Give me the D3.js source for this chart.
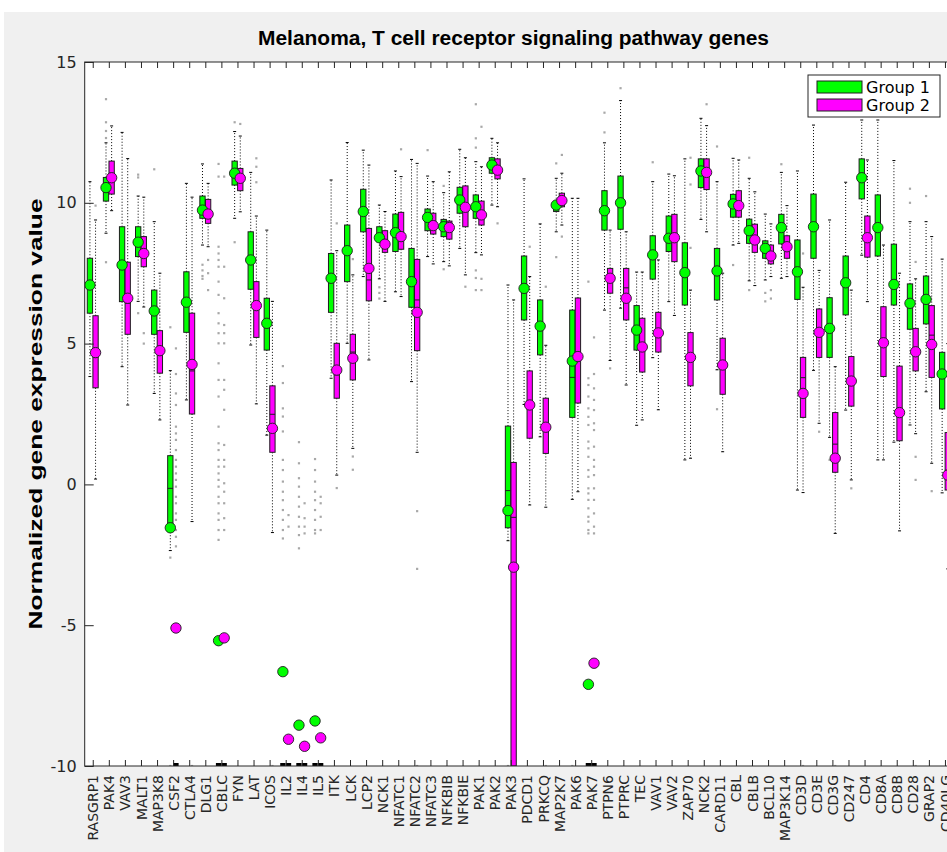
<!DOCTYPE html>
<html><head><meta charset="utf-8">
<script src="https://cdn.jsdelivr.net/npm/d3@7"></script>
<style>body{margin:0;background:#fff}svg{display:block}</style>
</head><body>
<script>
const genes = ["RASGRP1","PAK4","VAV3","MALT1","MAP3K8","CSF2","CTLA4","DLG1","CBLC","FYN","LAT","ICOS","IL2","IL4","IL5","ITK","LCK","LCP2","NCK1","NFATC1","NFATC2","NFATC3","NFKBIB","NFKBIE","PAK1","PAK2","PAK3","PDCD1","PRKCQ","MAP2K7","PAK6","PAK7","PTPN6","PTPRC","TEC","VAV1","VAV2","ZAP70","NCK2","CARD11","CBL","CBLB","BCL10","MAP3K14","CD3D","CD3E","CD3G","CD247","CD4","CD8A","CD8B","CD28","GRAP2","CD40LG"];
const groups = ["Group 1","Group 2"];
const yTicks = [-10,-5,0,5,10,15];

// Group 1 statistics
const g1Q1   = [6.08,10.06,6.49,8.09,5.33,-1.38,5.4,9.45,-10,10.63,6.93,4.77,-10,-10,-10,6.11,7.2,8.97,8.62,8.27,6.29,9.01,8.8,9.63,9.45,11.05,-1.54,5.84,4.6,9.69,2.38,-10,9.03,9.06,4.77,7.29,8.27,6.37,10.54,6.55,9.49,8.56,8.03,8.54,6.57,8.03,4.51,6.02,10.14,8.11,6.37,5.51,5.7,2.68];
const g1Q3   = [8.03,10.9,9.15,9.15,6.9,1.02,7.55,10.24,-10,11.48,8.97,6.61,-10,-10,-10,8.2,9.21,10.48,9.15,9.6,8.38,9.78,9.41,10.55,10.28,11.6,2.07,8.11,6.55,10.04,6.19,-10,10.43,10.95,6.35,8.83,9.53,8.58,11.56,8.38,10.3,9.42,8.65,9.59,8.68,10.31,6.63,8.11,11.56,10.28,8.53,7.12,7.4,4.69];
const g1Med  = [7.05,10.5,7.9,8.6,6.15,-0.14,6.5,9.8,-10,11.05,8.0,5.7,-10,-10,-10,7.3,8.3,9.7,8.8,8.95,7.3,9.5,9.15,10.1,9.85,11.35,-0.22,7.0,5.6,9.9,3.8,-10,9.7,10.0,5.5,8.15,8.75,7.5,11.1,7.6,9.95,9.0,8.4,9.1,7.6,9.2,5.5,7.2,10.9,9.1,7.1,6.4,6.55,3.9];
const g1Mean = [7.08,10.54,7.79,8.6,6.16,-1.54,6.47,9.74,-5.55,11.05,7.97,5.72,-6.65,-8.55,-8.4,7.32,8.3,9.69,8.76,8.94,7.2,9.48,9.15,10.1,9.86,11.34,-0.93,6.96,5.62,9.92,4.38,-7.1,9.72,10.0,5.48,8.15,8.74,7.52,11.13,7.58,9.96,9.01,8.38,9.12,7.55,9.15,5.54,7.16,10.89,9.12,7.1,6.43,6.57,3.92];
const g1Lo   = [3.83,8.92,4.18,6.5,3.23,-2.35,3.0,8.5,-10,9.45,4.95,1.75,-10,-10,-10,3.77,5.01,7.38,7.3,6.84,3.65,8.09,7.91,8.38,8.23,9.92,-2.0,2.84,1.69,8.97,-0.53,-10,6.19,6.26,2.1,4.5,6.49,0.87,9.41,4.07,8.5,7.23,7.26,7.32,-0.2,4.05,1.67,2.64,8.14,0.87,1.5,2.11,3.29,-0.3];
const g1Hi   = [10.75,12.13,12.5,10.24,9.33,4.04,10.69,11.38,-10,12.53,11.08,9.03,-10,-10,-10,10.81,12.14,11.87,9.92,11.13,11.54,10.95,10.36,11.9,11.46,12.29,7.08,10.85,9.25,10.87,10.16,-10,12.13,13.63,7.54,10.75,11.02,11.56,13.0,10.75,11.58,10.87,9.6,11.08,11.13,12.76,9.39,10.73,12.94,12.94,11.5,9.33,9.33,8.0];

// Group 2 statistics
const g2Q1   = [3.43,10.31,5.33,7.73,3.95,-10,2.5,9.27,-10,10.43,5.22,1.14,-10,-10,-10,3.06,3.71,6.52,8.24,8.35,4.75,8.89,8.71,9.15,9.21,10.85,-10,1.64,1.1,9.86,2.89,-10,6.79,5.84,3.99,4.7,7.91,3.5,10.47,3.2,9.49,8.24,7.83,8.03,2.38,4.51,0.43,2.78,8.07,3.83,1.55,4.03,3.8,-0.2];
const g2Q3   = [5.99,11.48,7.89,8.8,5.46,-10,6.08,10.12,-10,11.22,7.2,3.5,-10,-10,-10,5.01,5.33,9.09,9.01,9.66,7.99,9.63,9.35,10.6,10.06,11.56,0.78,4.03,3.06,10.34,6.62,-10,7.67,7.67,5.9,6.11,9.59,5.39,11.56,5.19,10.43,9.24,8.5,8.83,4.51,6.23,2.55,4.54,9.53,6.31,4.2,5.54,6.35,1.84];
const g2Med  = [4.51,10.9,6.43,8.2,4.75,-10,4.03,9.6,-10,10.85,6.3,2.49,-10,-10,-10,3.89,4.7,7.26,8.55,8.8,6.55,9.2,9.1,9.85,9.6,11.2,-1.17,2.8,2.0,10.1,4.6,-10,7.3,6.98,4.9,5.4,8.8,4.5,11.1,4.2,9.9,8.7,8.1,8.45,3.79,5.4,1.43,3.7,8.8,5.0,2.6,4.7,5.3,0.5];
const g2Mean = [4.68,10.89,6.61,8.2,4.75,-5.1,4.26,9.6,-5.45,10.87,6.35,1.99,-9.05,-9.3,-9.0,4.06,4.48,7.67,8.53,8.8,6.11,9.19,9.12,9.84,9.57,11.16,-2.94,2.82,2.03,10.08,4.54,-6.35,7.32,6.61,4.88,5.38,8.76,4.51,11.08,4.24,9.9,8.68,8.11,8.44,3.23,5.4,0.93,3.67,8.76,5.03,2.55,4.71,4.97,0.33];
const g2Lo   = [0.19,9.72,2.82,6.3,2.29,-10,-1.32,8.44,-10,9.68,2.86,-1.71,-10,-10,-10,0.33,1.28,4.42,6.5,6.67,1.14,7.83,7.76,7.44,8.15,9.86,-10,-0.73,-0.81,9.21,-0.26,-10,4.4,3.53,2.29,2.65,6.0,0.93,8.97,1.16,8.56,7.06,7.38,7.38,-0.29,2.17,-1.74,0.16,6.49,0.87,-1.65,1.8,0.75,-3.0];
const g2Hi   = [9.39,12.73,11.57,10.2,7.5,-10,10.2,10.69,-10,12.37,9.53,6.5,-10,-10,-10,8.3,7.44,11.34,9.69,10.93,11.4,10.75,11.1,11.6,11.28,12.13,6.55,7.38,4.94,11.05,10.16,-10,9.03,8.97,7.54,7.97,10.96,6.9,12.74,7.5,11.52,10.39,9.25,9.9,7.0,7.6,4.18,6.9,11.52,8.5,7.5,7.3,8.8,5.0];

// Outliers: [gene index, group index, values]
const outliers = [
 [0,1,[9.9]],
 [1,0,[13.68,12.86,12.55,12.3,7.89]],
 [3,0,[11.0,10.9,6.08]],
 [3,1,[5.37,5.0]],
 [4,0,[11.19]],
 [5,0,[5.58,-2.6,-10]],
 [5,1,[4.83,3.92,3.23,2.82,2.05,1.81,1.58,1.22,0.87,0.63,0.39,0.16,-0.08,-0.44,-0.67,-1.03,-1.26,-1.62,-1.86,-2.2]],
 [6,1,[-10]],
 [7,0,[7.8,7.6,7.4,7.3]],
 [7,1,[7.97,7.5,6.9]],
 [8,0,[11.38,10.93,8.44,8.2,7.97,7.73,7.2,6.73,6.08,5.72,5.37,5.01,4.3,3.71,3.12,2.05,1.46,1.22,0.87,0.63,0.39,0.16,-0.08,-0.44,-0.67,-1.03,-1.26,-1.62,-1.97]],
 [8,1,[10.93,7.73,6.61,5.66,5.37,5.01,3.71,3.36,2.65,1.4,0.87,0.63,0.04,-0.26,-0.67,-1.2,-1.62]],
 [9,0,[12.86,8.6]],
 [9,1,[12.8]],
 [10,1,[11.58,11.28,10.73]],
 [11,1,[-10]],
 [12,0,[4.2,3.6,2.7,2.41,1.88,0.87,0.51,0.1,-0.26,-0.56,-0.91,-1.26,-1.62,-1.92]],
 [12,1,[-1.09,-1.5]],
 [13,0,[1.5,0.75,0.22,-0.08,-0.44,-0.79,-1.15,-1.5,-1.8,-2.27]],
 [13,1,[-0.67,-1.2,-1.5,-1.74]],
 [14,0,[0.9,0.51,0.1,-0.26,-0.56,-0.91,-1.26,-1.62,-1.74]],
 [14,1,[-0.44,-0.67,-1.15,-1.62]],
 [15,1,[9.27,-0.13]],
 [16,1,[8.0,0.99,0.52]],
 [18,0,[7.0,6.8,6.6]],
 [19,1,[11.9]],
 [20,1,[-0.95,-3.0,-10]],
 [21,0,[11.87]],
 [22,0,[10.6,7.64]],
 [23,1,[7.02]],
 [24,0,[13.5,12.29,11.96,7.6,7.33,6.9]],
 [24,1,[12.7,7.3,6.9]],
 [25,1,[9.27]],
 [26,0,[-10]],
 [27,1,[8.44]],
 [28,1,[7.02,-10]],
 [29,0,[11.4,8.07]],
 [29,1,[11.7,8.8]],
 [30,0,[-10]],
 [31,0,[7.2,3.77,3.53,3.12,2.7,2.4,2.11,1.52,1.28,0.98,0.51,0.27,-0.14,-0.32,-0.55,-0.85,-1.15,-1.32,-1.62,-1.74]],
 [31,1,[5.22,3.92,3.41,3.0,2.64,2.17,1.93,1.34,0.87,0.63,0.33,-0.14,-0.55,-1.03,-1.5,-1.74]],
 [32,0,[13.2,12.5]],
 [32,1,[4.12]],
 [33,0,[14.07]],
 [35,0,[11.44]],
 [37,1,[11.6,10.65,8.4]],
 [38,1,[13.5]],
 [39,0,[12.0,2.67]],
 [40,0,[7.79]],
 [41,0,[11.6,6.9]],
 [42,0,[6.8,6.5]],
 [42,1,[6.9,6.6]],
 [43,0,[11.37]],
 [44,1,[8.2,-10]],
 [45,1,[1.87]],
 [46,0,[0.87]],
 [46,1,[-10]],
 [47,1,[-0.14]],
 [51,0,[10.5,10.0]],
 [51,1,[7.9,0.98,0.16,-10]],
 [52,0,[10.24]],
 [52,1,[-0.24]]
];

const colors = ["#00ff00","#ff00ff"];
const W = 947, H = 852;
const plot = {left: 84.7, right: 953, top: 62, bottom: 766};

const svg = d3.select("body").append("svg").attr("width", W).attr("height", H);
svg.append("rect").attr("x",0).attr("y",0).attr("width",W).attr("height",H).attr("fill","#fff");
svg.append("rect").attr("x",4).attr("y",12).attr("width",W-4).attr("height",H-12).attr("fill","#f0f0f0");

const x = d3.scaleLinear().domain([0.5, genes.length + 0.5]).range([plot.left, plot.right]);
const y = d3.scaleLinear().domain([-10, 15]).range([plot.bottom, plot.top]);
const step = x(2) - x(1);
const off = [-0.175, 0.175];
const bw = 0.33;

svg.append("defs").append("clipPath").attr("id","clip")
  .append("rect").attr("x",plot.left).attr("y",plot.top).attr("width",plot.right-plot.left).attr("height",plot.bottom-plot.top);

svg.append("rect").attr("x",plot.left).attr("y",plot.top).attr("width",plot.right-plot.left).attr("height",plot.bottom-plot.top).attr("fill","#fff");

const g = svg.append("g").attr("clip-path","url(#clip)");

const stats = [
  {q1:g1Q1,q3:g1Q3,med:g1Med,mean:g1Mean,lo:g1Lo,hi:g1Hi},
  {q1:g2Q1,q3:g2Q3,med:g2Med,mean:g2Mean,lo:g2Lo,hi:g2Hi}
];

// outliers
const outPts = [];
outliers.forEach(([gi, gr, vals]) => vals.forEach(v => outPts.push({gi, gr, v})));
g.selectAll("rect.out").data(outPts).join("rect").attr("class","out")
  .attr("x", d => x(d.gi + 1 + off[d.gr]) - 1.1)
  .attr("y", d => y(d.v) - 1.1)
  .attr("width", 2.2).attr("height", 2.2)
  .attr("fill", "#a8a8a8");

stats.forEach((s, gr) => {
  const data = genes.map((name, i) => ({i, q1:s.q1[i], q3:s.q3[i], med:s.med[i], mean:s.mean[i], lo:s.lo[i], hi:s.hi[i]}));
  const cx = d => x(d.i + 1 + off[gr]);
  const gg = g.append("g");
  gg.selectAll("line.wu").data(data.filter(d => d.hi > d.q3)).join("line")
    .attr("x1", cx).attr("x2", cx).attr("y1", d => y(d.q3)).attr("y2", d => y(d.hi))
    .attr("stroke","#000").attr("stroke-width",1).attr("stroke-dasharray","1,2");
  gg.selectAll("line.wl").data(data.filter(d => d.lo < d.q1)).join("line")
    .attr("x1", cx).attr("x2", cx).attr("y1", d => y(d.q1)).attr("y2", d => y(d.lo))
    .attr("stroke","#000").attr("stroke-width",1).attr("stroke-dasharray","1,2");
  gg.selectAll("line.cu").data(data.filter(d => d.hi > d.q3)).join("line")
    .attr("x1", d => cx(d) - 1.5).attr("x2", d => cx(d) + 1.5).attr("y1", d => y(d.hi)).attr("y2", d => y(d.hi))
    .attr("stroke","#000").attr("stroke-width",1);
  gg.selectAll("line.cl").data(data.filter(d => d.lo < d.q1)).join("line")
    .attr("x1", d => cx(d) - 1.5).attr("x2", d => cx(d) + 1.5).attr("y1", d => y(d.lo)).attr("y2", d => y(d.lo))
    .attr("stroke","#000").attr("stroke-width",1);
  const bwPx = bw * step;
  gg.selectAll("rect.box").data(data.filter(d => d.q3 > d.q1)).join("rect")
    .attr("x", d => cx(d) - bwPx/2).attr("width", bwPx)
    .attr("y", d => y(d.q3)).attr("height", d => y(d.q1) - y(d.q3))
    .attr("fill", colors[gr]).attr("stroke","#1e1e1e").attr("stroke-width",1);
  gg.selectAll("rect.flat").data(data.filter(d => d.q3 <= d.q1)).join("rect")
    .attr("x", d => cx(d) - bwPx/2).attr("width", bwPx)
    .attr("y", d => y(d.q3) - 3).attr("height", 3)
    .attr("fill", "#000");
  gg.selectAll("line.med").data(data.filter(d => d.q3 > d.q1)).join("line")
    .attr("x1", d => cx(d) - bwPx/2).attr("x2", d => cx(d) + bwPx/2)
    .attr("y1", d => y(d.med)).attr("y2", d => y(d.med))
    .attr("stroke","#1e1e1e").attr("stroke-width",1);
});

stats.forEach((s, gr) => {
  g.append("g").selectAll("circle").data(genes.map((n,i)=>({i, v:s.mean[i]}))).join("circle")
    .attr("cx", d => x(d.i + 1 + off[gr])).attr("cy", d => y(d.v)).attr("r", 5.2)
    .attr("fill", colors[gr]).attr("stroke","#1e1e1e").attr("stroke-width",0.9);
});

const axisColor = "#262626";
svg.append("rect").attr("x",plot.left).attr("y",plot.top).attr("width",plot.right-plot.left).attr("height",plot.bottom-plot.top)
  .attr("fill","none").attr("stroke",axisColor).attr("stroke-width",1);

const xAxisB = d3.axisBottom(x).tickValues(d3.range(1, genes.length+1)).tickSizeInner(-6).tickSizeOuter(0).tickFormat(d => genes[d-1]);
const gxb = svg.append("g").attr("transform",`translate(0,${plot.bottom})`).call(xAxisB);
gxb.select(".domain").remove();
gxb.selectAll(".tick line").attr("stroke",axisColor);
gxb.selectAll(".tick text")
  .attr("transform","rotate(-90)")
  .attr("x",-9).attr("y",0).attr("dy","0.36em")
  .attr("text-anchor","end")
  .attr("font-family","DejaVu Sans").attr("font-size",14).attr("fill","#262626");

const xAxisT = d3.axisTop(x).tickValues(d3.range(1, genes.length+1)).tickSizeInner(-6).tickSizeOuter(0).tickFormat("");
const gxt = svg.append("g").attr("transform",`translate(0,${plot.top})`).call(xAxisT);
gxt.select(".domain").remove();
gxt.selectAll(".tick line").attr("stroke",axisColor);

const yAxis = d3.axisLeft(y).tickValues(yTicks).tickSizeInner(-9).tickSizeOuter(0).tickPadding(8).tickFormat(d => d < 0 ? "-" + Math.abs(d) : d);
const gy = svg.append("g").attr("transform",`translate(${plot.left},0)`).call(yAxis);
gy.select(".domain").remove();
gy.selectAll(".tick line").attr("stroke",axisColor);
gy.selectAll(".tick text").attr("font-family","DejaVu Sans").attr("font-size",16).attr("fill","#262626");

svg.append("text").attr("x",513.5).attr("y",45).attr("text-anchor","middle")
  .attr("font-family","Liberation Sans").attr("font-weight","bold").attr("font-size",20)
  .attr("textLength",511).attr("lengthAdjust","spacingAndGlyphs")
  .attr("fill","#000").text("Melanoma, T cell receptor signaling pathway genes");

svg.append("text").attr("transform",`translate(42,${(plot.top+plot.bottom)/2}) rotate(-90)`)
  .attr("text-anchor","middle")
  .attr("font-family","Liberation Sans").attr("font-weight","bold").attr("font-size",18)
  .attr("textLength",431).attr("lengthAdjust","spacingAndGlyphs")
  .attr("fill","#000").text("Normalized gene expression value");

const lg = svg.append("g").attr("transform","translate(808,75)");
lg.append("rect").attr("width",132).attr("height",42).attr("fill","#fff").attr("stroke",axisColor).attr("stroke-width",1);
groups.forEach((name, i) => {
  lg.append("rect").attr("x",9).attr("y",6 + i*18).attr("width",45).attr("height",12)
    .attr("fill",colors[i]).attr("stroke","#1e1e1e").attr("stroke-width",1);
  lg.append("text").attr("x",58).attr("y",12 + i*18).attr("dy","0.36em")
    .attr("font-family","DejaVu Sans").attr("font-size",16).attr("fill","#000").text(name);
});
</script>
</body></html>
